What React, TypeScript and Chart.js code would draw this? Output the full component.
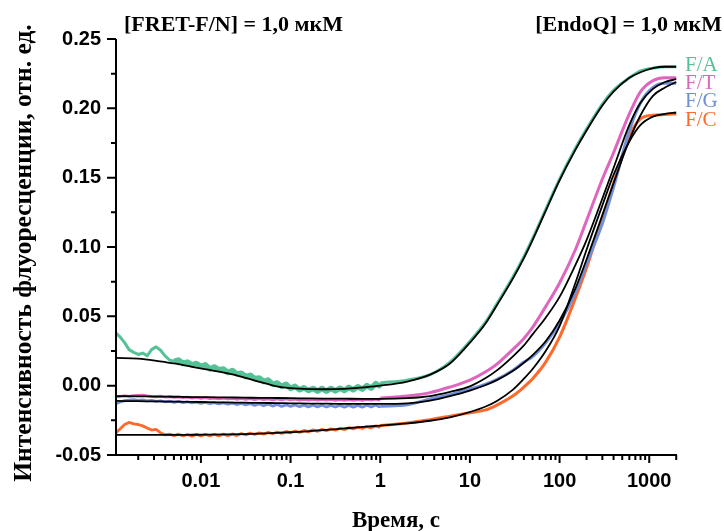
import React, { useEffect, useRef } from 'react';
import { Chart, registerables } from 'chart.js';

Chart.register(...registerables);

// ---------- data ----------
const noisyTime = [
  0.00113, 0.00126, 0.00141, 0.00158, 0.00178, 0.002, 0.00224, 0.00251, 0.00282, 0.00316,
  0.00355, 0.00398, 0.00447, 0.00501, 0.00562, 0.00631, 0.00708, 0.00794, 0.00891, 0.01,
  0.0112, 0.0126, 0.0141, 0.0158, 0.0178, 0.02, 0.0224, 0.0251, 0.0282, 0.0316,
  0.0355, 0.0398, 0.0447, 0.0501, 0.0562, 0.0631, 0.0708, 0.0794, 0.0891, 0.1,
  0.112, 0.126, 0.141, 0.158, 0.178, 0.2, 0.224, 0.251, 0.282, 0.316,
  0.355, 0.398, 0.447, 0.501, 0.562, 0.631, 0.708, 0.794, 0.891, 0.97,
];
const smoothTime = [1, 2, 3.6, 6, 10, 15, 20, 30, 40, 50, 70, 100, 150, 200, 300, 400, 600, 800, 1100, 1500, 2000];
const fitTime = [
  0.00113, 0.002, 0.0035, 0.005, 0.008, 0.012, 0.02, 0.03, 0.045, 0.07, 0.1, 0.165, 0.25, 0.4, 0.65,
  1, 2, 3.6, 6, 10, 15, 20, 30, 40, 50, 70, 100, 150, 200, 300, 400, 600, 800, 1100, 1500, 2000,
];

// F/A
const faNoisy = [
  0.038, 0.035, 0.031, 0.026, 0.024, 0.0225, 0.0235, 0.0215, 0.026, 0.028,
  0.0255, 0.0215, 0.0185, 0.0175, 0.0185, 0.0160, 0.0170, 0.0150, 0.0160, 0.0140,
  0.0150, 0.0120, 0.0135, 0.0115, 0.0120, 0.0095, 0.0110, 0.0085, 0.0090, 0.0065,
  0.0075, 0.0050, 0.0055, 0.0030, 0.0040, 0.0010, 0.0020, -0.0005, 0.0010, -0.0020,
  -0.0005, -0.0030, -0.0015, -0.0035, -0.0020, -0.0040, -0.0020, -0.0040, -0.0020, -0.0038,
  -0.0018, -0.0035, -0.0012, -0.0030, -0.0008, -0.0025, 0.0000, -0.0018, 0.0015, 0.0000,
];
const faSmooth = [0.002, 0.004, 0.008, 0.017, 0.032, 0.046, 0.059, 0.078, 0.093, 0.106, 0.127, 0.149, 0.171, 0.185, 0.203, 0.213, 0.222, 0.227, 0.229, 0.230, 0.230];
const faFit = [
  0.020, 0.0195, 0.0175, 0.016, 0.0135, 0.0115, 0.0088, 0.006, 0.0028, -0.0005, -0.0018, -0.0025, -0.0026, -0.0023, -0.0012,
  0.000, 0.003, 0.008, 0.016, 0.031, 0.045, 0.058, 0.077, 0.092, 0.105, 0.126, 0.148, 0.170, 0.184, 0.202, 0.212, 0.222, 0.226, 0.229, 0.230, 0.230,
];

// F/T
const ftNoisy = [
  -0.0080, -0.0078, -0.0074, -0.0078, -0.0072, -0.0070, -0.0068, -0.0074, -0.0078, -0.0080,
  -0.0076, -0.0082, -0.0079, -0.0085, -0.0081, -0.0087, -0.0083, -0.0089, -0.0085, -0.0091,
  -0.0087, -0.0093, -0.0089, -0.0095, -0.0090, -0.0096, -0.0091, -0.0098, -0.0092, -0.0099,
  -0.0093, -0.0100, -0.0094, -0.0101, -0.0095, -0.0102, -0.0096, -0.0102, -0.0096, -0.0103,
  -0.0097, -0.0104, -0.0098, -0.0104, -0.0098, -0.0105, -0.0099, -0.0105, -0.0099, -0.0106,
  -0.0100, -0.0106, -0.0100, -0.0106, -0.0100, -0.0106, -0.0099, -0.0105, -0.0098, -0.0104,
];
const ftSmooth = [-0.0090, -0.0075, -0.005, -0.001, 0.004, 0.010, 0.0155, 0.026, 0.034, 0.042, 0.057, 0.074, 0.098, 0.119, 0.149, 0.168, 0.196, 0.212, 0.220, 0.222, 0.222];
const ftFit = [
  -0.0075, -0.0077, -0.0079, -0.0080, -0.0082, -0.0083, -0.0085, -0.0086, -0.0088, -0.0089, -0.0090, -0.0092, -0.0093, -0.0094, -0.0095,
  -0.0095, -0.0090, -0.0075, -0.0045, -0.0005, 0.0055, 0.011, 0.021, 0.029, 0.037, 0.049, 0.064, 0.087, 0.105, 0.135, 0.157, 0.188, 0.204, 0.214, 0.219, 0.221,
];

// F/G
const fgNoisy = [
  -0.0130, -0.0118, -0.0108, -0.0104, -0.0100, -0.0106, -0.0102, -0.0110, -0.0106, -0.0114,
  -0.0109, -0.0117, -0.0112, -0.0120, -0.0114, -0.0122, -0.0116, -0.0124, -0.0118, -0.0127,
  -0.0120, -0.0129, -0.0122, -0.0131, -0.0124, -0.0134, -0.0126, -0.0136, -0.0128, -0.0138,
  -0.0130, -0.0142, -0.0132, -0.0145, -0.0134, -0.0147, -0.0136, -0.0149, -0.0138, -0.0150,
  -0.0139, -0.0152, -0.0140, -0.0153, -0.0141, -0.0153, -0.0141, -0.0154, -0.0142, -0.0154,
  -0.0142, -0.0155, -0.0142, -0.0155, -0.0142, -0.0155, -0.0141, -0.0154, -0.0140, -0.0152,
];
const fgSmooth = [-0.0148, -0.0138, -0.0095, -0.0065, -0.0025, 0.001, 0.0045, 0.011, 0.017, 0.021, 0.031, 0.045, 0.067, 0.088, 0.117, 0.143, 0.184, 0.204, 0.215, 0.218, 0.218];
const fgFit = [
  -0.0110, -0.0112, -0.0114, -0.0115, -0.0117, -0.0119, -0.0121, -0.0123, -0.0124, -0.0126, -0.0127, -0.0129, -0.0130, -0.0131, -0.0132,
  -0.0132, -0.0128, -0.0108, -0.0075, -0.0035, 0.0005, 0.004, 0.0105, 0.0165, 0.022, 0.032, 0.047, 0.070, 0.091, 0.123, 0.146, 0.177, 0.195, 0.209, 0.215, 0.219,
];

// F/C
const fcNoisy = [
  -0.0340, -0.0310, -0.0280, -0.0265, -0.0275, -0.0280, -0.0290, -0.0305, -0.0320, -0.0315,
  -0.0340, -0.0355, -0.0350, -0.0360, -0.0350, -0.0362, -0.0352, -0.0364, -0.0351, -0.0363,
  -0.0350, -0.0362, -0.0350, -0.0362, -0.0349, -0.0361, -0.0348, -0.0360, -0.0345, -0.0355,
  -0.0342, -0.0352, -0.0340, -0.0350, -0.0337, -0.0347, -0.0334, -0.0344, -0.0330, -0.0340,
  -0.0327, -0.0337, -0.0323, -0.0333, -0.0319, -0.0329, -0.0315, -0.0325, -0.0311, -0.0321,
  -0.0307, -0.0317, -0.0303, -0.0312, -0.0299, -0.0308, -0.0295, -0.0304, -0.0290, -0.0299,
];
const fcSmooth = [-0.0288, -0.0270, -0.0245, -0.0220, -0.0195, -0.0175, -0.0140, -0.0075, -0.0010, 0.005, 0.017, 0.035, 0.063, 0.085, 0.121, 0.146, 0.180, 0.1925, 0.195, 0.1955, 0.196];
const fcFit = [
  -0.0355, -0.0355, -0.0355, -0.0355, -0.0354, -0.0353, -0.0351, -0.0349, -0.0346, -0.0341, -0.0336, -0.0328, -0.0319, -0.0308, -0.0297,
  -0.0288, -0.0272, -0.0253, -0.0228, -0.0190, -0.0150, -0.0110, -0.0030, 0.005, 0.012, 0.025, 0.043, 0.074, 0.098, 0.130, 0.152, 0.176, 0.188, 0.194, 0.196, 0.197,
];

const seriesNames = ['F/A', 'F/T', 'F/G', 'F/C'];
const seriesColors = ['#55c196', '#e065bf', '#6f8fd6', '#ff6a2c'];

const yMajorTicks = [-0.05, 0, 0.05, 0.1, 0.15, 0.2, 0.25];
const yTickLabels = ['-0.05', '0.00', '0.05', '0.10', '0.15', '0.20', '0.25'];
const yMinorTicks = [-0.025, 0.025, 0.075, 0.125, 0.175, 0.225];
const xMajorTicks = [0.01, 0.1, 1, 10, 100, 1000];
const xTickLabels = ['0.01', '0.1', '1', '10', '100', '1000'];
const xMinorTicks = [
  0.002, 0.003, 0.004, 0.005, 0.006, 0.007, 0.008, 0.009,
  0.02, 0.03, 0.04, 0.05, 0.06, 0.07, 0.08, 0.09,
  0.2, 0.3, 0.4, 0.5, 0.6, 0.7, 0.8, 0.9,
  2, 3, 4, 5, 6, 7, 8, 9,
  20, 30, 40, 50, 60, 70, 80, 90,
  200, 300, 400, 500, 600, 700, 800, 900,
  2000,
];

const titleLeft = '[FRET-F/N] = 1,0 мкМ';
const titleRight = '[EndoQ] = 1,0 мкМ';
const yTitle = 'Интенсивность флуоресценции, отн. ед.';
const xTitle = 'Время, с';

function zip(xs: number[], ys: number[]) {
  return xs.map((x, i) => ({ x, y: ys[i] }));
}

const decorPlugin = {
  id: 'decor',
  afterDraw(chart: any) {
    const ctx = chart.ctx as CanvasRenderingContext2D;
    const xs = chart.scales.x;
    const ys = chart.scales.y;
    const { left, right, top, bottom } = chart.chartArea;
    ctx.save();
    ctx.strokeStyle = '#000';
    ctx.lineWidth = 2;
    ctx.lineCap = 'butt';
    ctx.beginPath();
    ctx.moveTo(left, top);
    ctx.lineTo(left, bottom + 1);
    ctx.moveTo(left - 1, bottom);
    ctx.lineTo(right, bottom);
    for (const v of yMajorTicks) {
      const y = ys.getPixelForValue(v);
      ctx.moveTo(left - 9, y);
      ctx.lineTo(left, y);
    }
    for (const v of yMinorTicks) {
      const y = ys.getPixelForValue(v);
      ctx.moveTo(left - 5, y);
      ctx.lineTo(left, y);
    }
    for (const v of xMajorTicks) {
      const x = xs.getPixelForValue(v);
      ctx.moveTo(x, bottom);
      ctx.lineTo(x, bottom + 8);
    }
    for (const v of xMinorTicks) {
      const x = xs.getPixelForValue(v);
      ctx.moveTo(x, bottom);
      ctx.lineTo(x, bottom + 5);
    }
    ctx.stroke();

    ctx.fillStyle = '#000';
    ctx.font = 'bold 22px "Liberation Serif"';
    ctx.textBaseline = 'alphabetic';
    ctx.textAlign = 'left';
    ctx.fillText(titleLeft, 124, 31);
    ctx.textAlign = 'right';
    ctx.fillText(titleRight, 722, 31);

    ctx.font = '21px "Liberation Serif"';
    ctx.textAlign = 'left';
    const legendBase = [71, 89, 107, 126];
    seriesNames.forEach((n, i) => {
      ctx.fillStyle = seriesColors[i];
      ctx.fillText(n, 685, legendBase[i]);
    });

    ctx.fillStyle = '#000';
    ctx.font = 'bold 23px "Liberation Serif"';
    ctx.textAlign = 'center';
    ctx.fillText(xTitle, 396, 527);

    ctx.save();
    ctx.translate(31, 253);
    ctx.rotate(-Math.PI / 2);
    ctx.font = 'bold 25.5px "Liberation Serif"';
    ctx.textAlign = 'center';
    ctx.fillText(yTitle, 0, 0);
    ctx.restore();
    ctx.restore();
  },
};

export default function App() {
  const ref = useRef<HTMLCanvasElement | null>(null);
  useEffect(() => {
    document.body.style.margin = '0';
    document.body.style.background = '#fff';
    const canvas = ref.current;
    if (!canvas) return;
    const noisyAll = [faNoisy, ftNoisy, fgNoisy, fcNoisy];
    const smoothAll = [faSmooth, ftSmooth, fgSmooth, fcSmooth];
    const fitAll = [faFit, ftFit, fgFit, fcFit];
    const dataSets: any[] = [];
    seriesNames.forEach((n, i) => {
      dataSets.push({
        label: n + ' raw',
        data: [...zip(noisyTime, noisyAll[i]), { x: smoothTime[0], y: smoothAll[i][0] }],
        borderColor: seriesColors[i],
        borderWidth: 2.8,
        segment:
          i === 0
            ? { borderWidth: (c: any) => (c.p0.parsed.x < 0.0045 ? 3 : 5.5) }
            : undefined,
        pointRadius: 0,
        tension: 0,
        order: 3,
      });
      dataSets.push({
        label: n,
        data: zip(smoothTime, smoothAll[i]),
        borderColor: seriesColors[i],
        borderWidth: 3,
        pointRadius: 0,
        cubicInterpolationMode: 'monotone',
        order: 2,
      });
    });
    seriesNames.forEach((n, i) => {
      dataSets.push({
        label: n + ' fit',
        data: zip(fitTime, fitAll[i]),
        borderColor: '#000',
        borderWidth: 1.8,
        pointRadius: 0,
        cubicInterpolationMode: 'monotone',
        order: 1,
      });
    });
    const chart = new Chart(canvas, {
      type: 'line',
      data: { datasets: dataSets },
      options: {
        animation: false,
        responsive: false,
        devicePixelRatio: 1,
        layout: { padding: { top: 39, right: 47, left: 0, bottom: 0 } },
        plugins: { legend: { display: false }, tooltip: { enabled: false } },
        elements: { point: { radius: 0 }, line: { borderJoinStyle: 'round' } },
        scales: {
          x: {
            type: 'logarithmic',
            min: 0.00113,
            max: 2040,
            grid: { display: false, drawTicks: false },
            border: { display: false },
            ticks: {
              autoSkip: false,
              maxRotation: 0,
              minRotation: 0,
              padding: 14,
              color: '#000',
              font: { family: 'Liberation Sans', weight: 'bold', size: 20 },
              callback: (v: any) => {
                const val = Number(v);
                const idx = xMajorTicks.findIndex((t) => Math.abs(t - val) / t < 1e-6);
                return idx >= 0 ? xTickLabels[idx] : '';
              },
            },
            afterFit: (s: any) => {
              s.height = 76;
            },
          },
          y: {
            min: -0.05,
            max: 0.25,
            grid: { display: false, drawTicks: false },
            border: { display: false },
            ticks: {
              stepSize: 0.05,
              padding: 15,
              color: '#000',
              font: { family: 'Liberation Sans', weight: 'bold', size: 20 },
              callback: (v: any) => {
                const val = Number(v);
                const idx = yMajorTicks.findIndex((t) => Math.abs(t - val) < 1e-6);
                return idx >= 0 ? yTickLabels[idx] : '';
              },
            },
            afterFit: (s: any) => {
              s.width = 116;
            },
          },
        },
      },
      plugins: [decorPlugin],
    } as any);
    return () => chart.destroy();
  }, []);
  return (
    <div style={{ width: 724, height: 531, background: '#fff' }}>
      <canvas ref={ref} width={724} height={531} style={{ display: 'block', width: 724, height: 531 }} />
    </div>
  );
}
